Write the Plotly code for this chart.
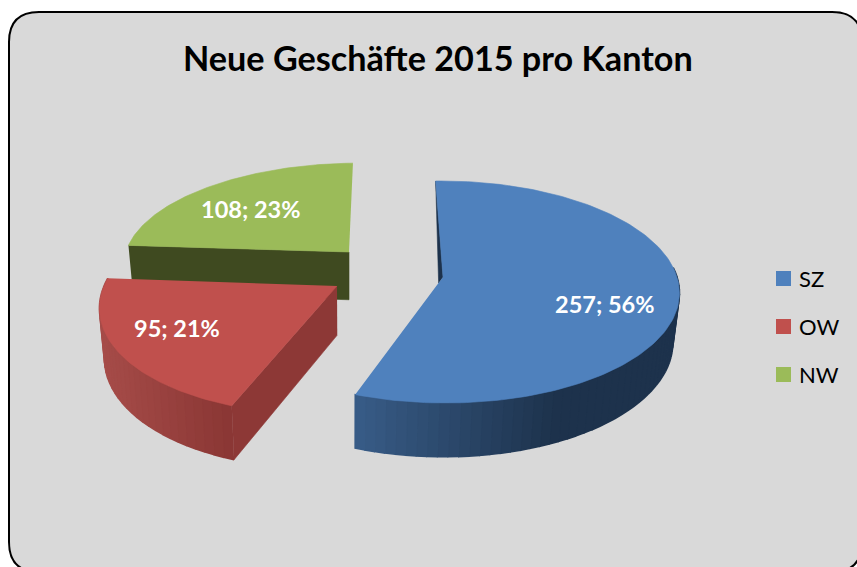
import numpy as np
import plotly.graph_objects as go

# ---- data ----
categories = ["SZ", "OW", "NW"]
values = [257, 95, 108]
title_text = "Neue Geschäfte 2015 pro Kanton"
top_colors = ["#4F81BD", "#C0504D", "#9BBB59"]

# ---- chart geometry (pixel-based drawing space) ----
W, H = 857, 567
START = -1.5
slice_geo = {
    "SZ": dict(ax=443, ay=277, rx=234, ry=109, k=0.135, s=0.02),
    "OW": dict(ax=337, ay=286, rx=233, ry=111, k=0.135, s=-0.13),
    "NW": dict(ax=349, ay=252, rx=223, ry=96, k=0.08, s=-0.105),
}
label_pos = {"SZ": (604, 304), "OW": (177, 328), "NW": (250, 209)}
LEGEND_X, LEGEND_Y, LEGEND_STEP, LEGEND_TEXT_X = 783.5, 278.5, 48, 798

total = sum(values)
spans = [360 * v / total for v in values]
starts = START + np.concatenate([[0], np.cumsum(spans)[:-1]])


def rim(theta_deg, g):
    t = np.radians(theta_deg)
    f = 1 / (1 + g["k"] * np.cos(t))
    dy = -g["ry"] * np.cos(t) * f
    dx = g["rx"] * np.sin(t) * f + g["s"] * dy
    return g["ax"] + dx, g["ay"] + dy


def lower(x, y):
    x = np.asarray(x, float)
    y = np.asarray(y, float)
    return 350 + (x - 350) * 0.98, y + 49 + (y - 283) * 0.04


def mix(c1, c2, t):
    return "rgb(%d,%d,%d)" % tuple(round(a + (b - a) * t) for a, b in zip(c1, c2))


def poly(x, y, color, width=0.6):
    return go.Scatter(
        x=list(x), y=list(y), mode="lines", fill="toself", fillcolor=color,
        line=dict(color=color, width=width), hoverinfo="skip", showlegend=False,
    )


def side_strips(g, a0, a1, c_left, c_right, n, sat=1.0):
    """Rim wall cut into strips, shaded left to right."""
    out = []
    edges = np.linspace(a0, a1, n + 1)
    xs_all, _ = rim(edges, g)
    lo, hi = xs_all.min(), xs_all.max()
    for i in range(n):
        th = np.linspace(edges[i], edges[i + 1], 4)
        x, y = rim(th, g)
        bx, by = lower(x, y)
        t = min(1, (x.mean() - lo) / (hi - lo) / sat)
        out.append(poly(np.r_[x, bx[::-1]], np.r_[y, by[::-1]], mix(c_left, c_right, t), width=1.6))
    return out


fig = go.Figure()
sz, ow, nw = categories
iz, io, iw = 0, 1, 2

# green slice: front wall then top
g = slice_geo[nw]
a0, a1 = starts[iw], starts[iw] + spans[iw]
cx, cy = rim(a0, g)
bx, by = lower([cx, g["ax"]], [cy, g["ay"]])
fig.add_trace(poly([cx, g["ax"], bx[1], bx[0]], [cy, g["ay"], by[1], by[0]], "#3F4A20"))
th = np.linspace(a0, a1, 90)
x, y = rim(th, g)
fig.add_trace(poly(np.r_[g["ax"], x], np.r_[g["ay"], y], top_colors[iw]))

# red slice: rim, front wall, top
g = slice_geo[ow]
a0, a1 = starts[io], starts[io] + spans[io]
for tr in side_strips(g, a0, a1, (166, 76, 73), (138, 54, 52), 30):
    fig.add_trace(tr)
cx, cy = rim(a0, g)
bx, by = lower([cx, g["ax"]], [cy, g["ay"]])
fig.add_trace(poly([g["ax"], cx, bx[0], bx[1]], [g["ay"], cy, by[0], by[1]], "#8D3836"))
th = np.linspace(a0, a1, 90)
x, y = rim(th, g)
fig.add_trace(poly(np.r_[g["ax"], x], np.r_[g["ay"], y], top_colors[io]))

# blue slice: rim, inner sliver, top
g = slice_geo[sz]
a0, a1 = starts[iz], starts[iz] + spans[iz]
for tr in side_strips(g, 85, a1, (56, 92, 135), (29, 50, 76), 50, 0.62):
    fig.add_trace(tr)
x0, y0 = rim(a0, g)
x1, y1 = rim(a1, g)
fig.add_trace(poly(
    [x0, g["ax"], g["ax"] + 0.05 * (x1 - g["ax"]), x0],
    [y0, g["ay"], g["ay"] + 0.05 * (y1 - g["ay"]), y0], "#1D324C"))
th = np.linspace(a0, a1, 160)
x, y = rim(th, g)
fig.add_trace(poly(np.r_[g["ax"], x], np.r_[g["ay"], y], top_colors[iz]))

# data labels
annotations = [
    dict(x=label_pos[c][0], y=label_pos[c][1], xref="x", yref="y",
         text=f"{v}; {round(100 * v / total)}%", showarrow=False,
         font=dict(family="Lato", size=23.5, color="white", weight="bold"))
    for c, v in zip(categories, values)
]
annotations.append(dict(
    x=437.5, y=57, xref="x", yref="y", text=title_text, showarrow=False,
    font=dict(family="Lato", size=34.2, color="black", weight="bold")))

# legend entries
for i, (name, col) in enumerate(zip(categories, top_colors)):
    row_y = LEGEND_Y + i * LEGEND_STEP
    fig.add_trace(go.Scatter(
        x=[LEGEND_X], y=[row_y], mode="markers", name=name,
        marker=dict(symbol="square", size=15, color=col), hoverinfo="skip", showlegend=False,
    ))
    annotations.append(dict(
        x=LEGEND_TEXT_X, y=row_y, xref="x", yref="y", xanchor="left", xshift=-1,
        text=name, showarrow=False, font=dict(family="Lato", size=22, color="black")))

# rounded chart frame
L, T, R, B, r = 9, 12, 862, 572, 30
frame = (f"M {L+r} {T} L {R-r} {T} Q {R} {T} {R} {T+r} L {R} {B-r} Q {R} {B} {R-r} {B} "
         f"L {L+r} {B} Q {L} {B} {L} {B-r} L {L} {T+r} Q {L} {T} {L+r} {T} Z")

fig.update_layout(
    width=W, height=H, autosize=False,
    margin=dict(l=0, r=0, t=0, b=0),
    paper_bgcolor="white", plot_bgcolor="white",
    xaxis=dict(range=[0, W], visible=False, fixedrange=True),
    yaxis=dict(range=[H, 0], visible=False, fixedrange=True),
    shapes=[dict(type="path", path=frame, xref="x", yref="y", layer="below",
                 fillcolor="#D9D9D9", line=dict(color="black", width=2))],
    annotations=annotations,
    showlegend=False,
    hovermode=False,
)

fig.write_html(
    "out.html",
    config=dict(displayModeBar=False),
    post_script="document.body.style.margin='0';document.body.style.overflow='hidden';",
)
